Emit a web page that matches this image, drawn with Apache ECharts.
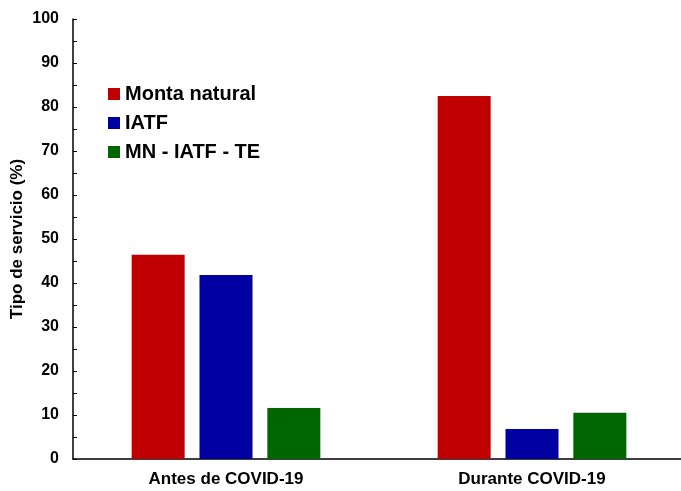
<!DOCTYPE html>
<html>
<head>
<meta charset="utf-8">
<script src="https://cdn.jsdelivr.net/npm/echarts@6/dist/echarts.min.js"></script>
<style>
  html, body { margin: 0; padding: 0; background: #fff; }
  #chart { width: 681px; height: 491px; }
</style>
</head>
<body>
<div id="chart"></div>
<script>
const categories = ["Antes de COVID-19", "Durante COVID-19"];
const montaNatural = [46.4, 82.5];
const iatf = [41.8, 6.8];
const mnIatfTe = [11.6, 10.5];
const seriesNames = ["Monta natural", "IATF", "MN - IATF - TE"];
const seriesColors = ["#C00000", "#0000A0", "#006600"];

const font = "'Liberation Sans', Arial, sans-serif";

const chart = echarts.init(document.getElementById("chart"));

chart.setOption({
  animation: false,
  textStyle: { fontFamily: font },
  grid: { left: 73, right: -4, top: 19, bottom: 32, outerBoundsMode: "none", containLabel: false },
  legend: {
    orient: "vertical",
    left: 103,
    top: 79,
    itemWidth: 12,
    itemHeight: 12,
    itemGap: 9,
    icon: "rect",
    textStyle: { fontSize: 20, fontWeight: "bold", color: "#000", fontFamily: font },
    data: seriesNames,
  },
  xAxis: {
    type: "category",
    data: categories,
    axisLine: { lineStyle: { color: "#000", width: 1.5 } },
    axisTick: { show: false },
    axisLabel: { fontSize: 17, fontWeight: "bold", color: "#000", margin: 12, fontFamily: font },
  },
  yAxis: {
    type: "value",
    min: 0,
    max: 100,
    interval: 5,
    name: "Tipo de servicio (%)",
    nameLocation: "middle",
    nameGap: 47,
    nameMoveOverlap: false,
    nameTextStyle: { fontSize: 17, fontWeight: "bold", color: "#000", fontFamily: font },
    axisLine: { show: true, lineStyle: { color: "#000", width: 1.5 } },
    axisTick: { show: true, inside: true, length: 4, lineStyle: { color: "#000" } },
    splitLine: { show: false },
    axisLabel: {
      fontSize: 16,
      fontWeight: "bold",
      color: "#000",
      margin: 14,
      fontFamily: font,
      formatter: (v) => (v % 10 === 0 ? String(v) : ""),
    },
  },
  series: [
    { name: seriesNames[0], type: "bar", data: montaNatural, itemStyle: { color: seriesColors[0] }, barWidth: 53, barGap: "28%" },
    { name: seriesNames[1], type: "bar", data: iatf, itemStyle: { color: seriesColors[1] }, barWidth: 53, barGap: "28%" },
    { name: seriesNames[2], type: "bar", data: mnIatfTe, itemStyle: { color: seriesColors[2] }, barWidth: 53, barGap: "28%" },
  ],
});
</script>
</body>
</html>
